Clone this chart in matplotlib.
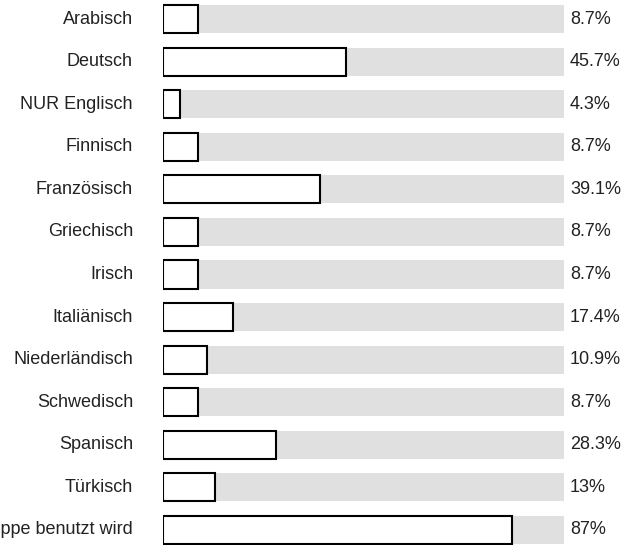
import matplotlib
matplotlib.use("Agg")
import matplotlib.pyplot as plt

categories = ["Arabisch", "Deutsch", "NUR Englisch", "Finnisch", "Französisch",
              "Griechisch", "Irisch", "Italiänisch", "Niederländisch", "Schwedisch",
              "Spanisch", "Türkisch", "Die Sprache, die in der Gruppe benutzt wird"]
values = [8.7, 45.7, 4.3, 8.7, 39.1, 8.7, 8.7, 17.4, 10.9, 8.7, 28.3, 13, 87]
value_labels = ["8.7%", "45.7%", "4.3%", "8.7%", "39.1%", "8.7%", "8.7%", "17.4%",
                "10.9%", "8.7%", "28.3%", "13%", "87%"]

plt.rcParams['font.family'] = ['Liberation Sans', 'DejaVu Sans']

W, H = 629, 545
fig = plt.figure(figsize=(W / 100, H / 100), dpi=100)
x0, x1 = 163, 564
row0, step = 19, 42.58
ax = fig.add_axes([x0 / W, 0, (x1 - x0) / W, 1])
ax.set_xlim(0, 100)
ax.set_ylim((H - row0) / step, -row0 / step)
ax.axis('off')

n = len(categories)
ys = list(range(n))
bh = 0.66
ax.barh(ys, [100] * n, height=bh, color='#e0e0e0', edgecolor='none', zorder=1)
ax.barh(ys, values, height=bh, color='white', edgecolor='black', linewidth=1.5, zorder=2)

for y, cat, lab in zip(ys, categories, value_labels):
    ax.text(-30 / 401 * 100, y, cat, ha='right', va='center', fontsize=13, color='#222222')
    ax.text(101.5, y, lab, ha='left', va='center', fontsize=13, color='#222222', clip_on=False)

fig.savefig("out.png", dpi=100)
